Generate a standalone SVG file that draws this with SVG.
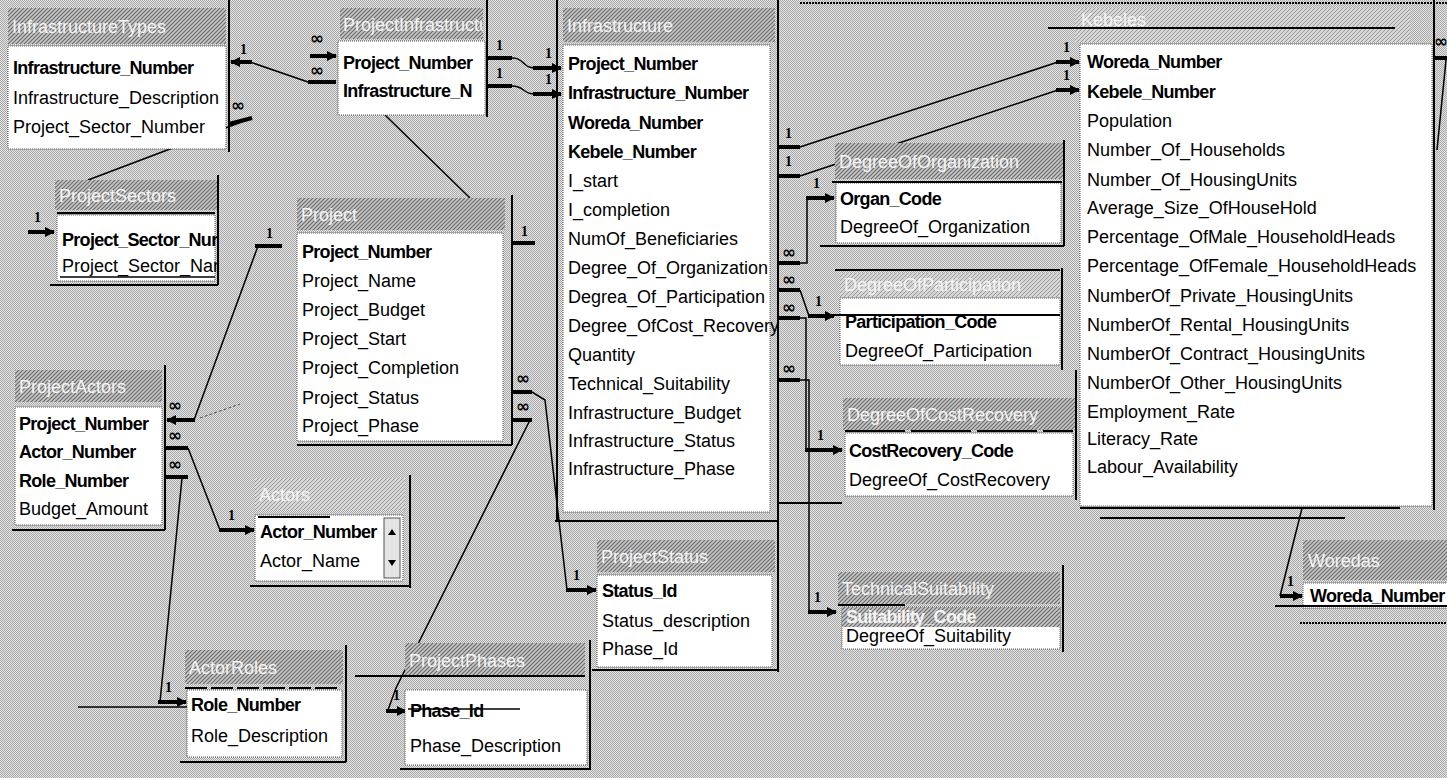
<svg xmlns="http://www.w3.org/2000/svg" width="1447" height="778" viewBox="0 0 1447 778">
<defs>
  <pattern id="dither" width="2" height="2" patternUnits="userSpaceOnUse">
    <rect width="2" height="2" fill="#e4e4e4"/>
    <rect width="1" height="1" fill="#a8a8a8"/>
    <rect x="1" y="1" width="1" height="1" fill="#a8a8a8"/>
  </pattern>
  <pattern id="hatch" width="4" height="4" patternUnits="userSpaceOnUse">
    <rect width="4" height="4" fill="#c6c6c6"/>
    <path d="M-1,1 l2,-2 M0,4 l4,-4 M3,5 l2,-2" stroke="#6c6c6c" stroke-width="1.2"/>
  </pattern>
  <pattern id="hatchLight" width="4" height="4" patternUnits="userSpaceOnUse">
    <rect width="4" height="4" fill="#d6d6d6"/>
    <path d="M-1,1 l2,-2 M0,4 l4,-4 M3,5 l2,-2" stroke="#9a9a9a" stroke-width="1"/>
  </pattern>
  <marker id="ah" markerUnits="userSpaceOnUse" markerWidth="10" markerHeight="10" refX="9" refY="5" orient="auto">
    <path d="M0,0 L10,5 L0,10 z" fill="#000"/>
  </marker>
  <style>
    .f{font-family:"Liberation Sans",Arial,sans-serif;font-size:18px;fill:#000}
    .b{font-weight:bold;letter-spacing:-0.7px}
    .t{font-family:"Liberation Sans",Arial,sans-serif;font-size:18px;fill:#f4f4f4}
    .bar{fill:url(#hatch)}
    .barL{fill:url(#hatchLight)}
    .body{fill:#fff;stroke:#555;stroke-width:1;stroke-dasharray:1 1}
    .edge{stroke:#000;stroke-width:2;fill:none}
    .ln{stroke:#000;stroke-width:1.5;fill:none}
    .stub{stroke:#000;stroke-width:4;fill:none}
    .arr{stroke:#000;stroke-width:4;fill:none;marker-end:url(#ah)}
    .one{font-family:"Liberation Serif","Times New Roman",serif;font-weight:bold;font-size:14px;fill:#000}
    .inf{font-family:"DejaVu Sans",sans-serif;font-weight:bold;font-size:17px;fill:#000}
  </style>
</defs>

<!-- workspace background -->
<rect width="1447" height="778" fill="url(#dither)"/>
<line x1="800" y1="3" x2="1447" y2="3" stroke="#000" stroke-width="2" stroke-dasharray="2 1"/>

<!-- relationship lines -->
<g id="connectors">
  <!-- InfrastructureTypes / ProjectInfrastructure -->
  <line class="arr" x1="252" y1="62" x2="231" y2="62"/>
  <text class="one" x="240" y="54">1</text>
  <polyline class="ln" points="250,62 308,82"/>
  <line class="stub" x1="308" y1="82" x2="336" y2="82"/>
  <text class="inf" x="310" y="44">∞</text>
  <line class="arr" x1="310" y1="56" x2="336" y2="56"/>
  <text class="inf" x="310" y="76">∞</text>

  <!-- ProjectInfrastructure to Infrastructure -->
  <line class="stub" x1="487" y1="58" x2="512" y2="58"/>
  <text class="one" x="496" y="50">1</text>
  <path class="ln" d="M512,58 C525,58 522,68 535,68"/>
  <line class="arr" x1="533" y1="68" x2="561" y2="68"/>
  <text class="one" x="545" y="58">1</text>
  <line class="stub" x1="487" y1="86" x2="512" y2="86"/>
  <text class="one" x="496" y="78">1</text>
  <path class="ln" d="M512,86 C525,86 522,94 535,94"/>
  <line class="arr" x1="533" y1="94" x2="561" y2="94"/>
  <text class="one" x="545" y="84">1</text>

  <!-- Infrastructure to Kebele -->
  <line class="stub" x1="778" y1="147" x2="800" y2="147"/>
  <text class="one" x="785" y="138">1</text>
  <line class="ln" x1="800" y1="147" x2="1058" y2="62"/>
  <line class="arr" x1="1056" y1="62" x2="1079" y2="62"/>
  <text class="one" x="1063" y="52">1</text>
  <line class="stub" x1="778" y1="176" x2="800" y2="176"/>
  <text class="one" x="785" y="166">1</text>
  <line class="ln" x1="800" y1="176" x2="1058" y2="90"/>
  <line class="arr" x1="1056" y1="90" x2="1079" y2="90"/>
  <text class="one" x="1063" y="80">1</text>

  <!-- Infrastructure to the degree tables -->
  <text class="inf" x="782" y="258">∞</text>
  <line class="stub" x1="778" y1="263" x2="800" y2="263"/>
  <polyline class="ln" points="800,263 807,263 807,198"/>
  <line class="arr" x1="806" y1="198" x2="834" y2="198"/>
  <text class="one" x="813" y="188">1</text>

  <text class="inf" x="782" y="285">∞</text>
  <line class="stub" x1="778" y1="290" x2="800" y2="290"/>
  <polyline class="ln" points="800,290 809,316"/>
  <line class="arr" x1="808" y1="316" x2="834" y2="316"/>
  <text class="one" x="815" y="306">1</text>

  <text class="inf" x="782" y="313">∞</text>
  <line class="stub" x1="778" y1="318" x2="800" y2="318"/>
  <polyline class="ln" points="800,318 806,318 806,450"/>
  <line class="arr" x1="805" y1="450" x2="842" y2="450"/>
  <text class="one" x="817" y="440">1</text>

  <text class="inf" x="782" y="374">∞</text>
  <line class="stub" x1="778" y1="380" x2="800" y2="380"/>
  <polyline class="ln" points="800,380 809,380 809,612"/>
  <line class="arr" x1="808" y1="612" x2="836" y2="612"/>
  <text class="one" x="814" y="602">1</text>

  <!-- Kebele to Woredas -->
  <line class="ln" x1="1302" y1="508" x2="1280" y2="596"/>
  <line class="arr" x1="1280" y1="596" x2="1302" y2="596"/>
  <text class="one" x="1287" y="586">1</text>
  <text class="inf" x="1434" y="47">∞</text>
  <line class="stub" x1="1434" y1="58" x2="1447" y2="58"/>
  <line class="ln" x1="1446" y1="60" x2="1437" y2="150"/>

  <!-- InfrastructureTypes to ProjectSectors -->
  <text class="inf" x="231" y="111">∞</text>
  <line class="stub" x1="229" y1="124" x2="252" y2="118"/>
  <line class="ln" x1="252" y1="118" x2="88" y2="180"/>
  <line class="arr" x1="28" y1="232" x2="54" y2="232"/>
  <text class="one" x="34" y="222">1</text>

  <!-- Project to ProjectInfrastructure -->
  <line class="ln" x1="385" y1="115" x2="470" y2="198"/>
  <line class="stub" x1="512" y1="243" x2="535" y2="243"/>
  <text class="one" x="521" y="236">1</text>

  <!-- Project to ProjectActors -->
  <line class="stub" x1="255" y1="246" x2="282" y2="246"/>
  <text class="one" x="266" y="238">1</text>
  <line class="ln" x1="258" y1="246" x2="194" y2="420"/>
  <line class="arr" x1="195" y1="420" x2="167" y2="420"/>
  <text class="inf" x="168" y="411">∞</text>
  <line x1="200" y1="418" x2="240" y2="404" stroke="#555" stroke-width="1" stroke-dasharray="3 2"/>

  <!-- ProjectActors to Actors -->
  <text class="inf" x="168" y="441">∞</text>
  <line class="stub" x1="165" y1="448" x2="188" y2="448"/>
  <line class="ln" x1="188" y1="448" x2="220" y2="530"/>
  <line class="arr" x1="219" y1="530" x2="254" y2="530"/>
  <text class="one" x="228" y="520">1</text>

  <!-- ProjectActors to ActorRoles -->
  <text class="inf" x="168" y="470">∞</text>
  <line class="stub" x1="165" y1="477" x2="188" y2="477"/>
  <line class="ln" x1="182" y1="478" x2="160" y2="702"/>
  <line class="arr" x1="158" y1="702" x2="186" y2="702"/>
  <text class="one" x="165" y="692">1</text>
  <line class="ln" x1="78" y1="707" x2="190" y2="707"/>

  <!-- Project to ProjectStatus -->
  <text class="inf" x="516" y="384">∞</text>
  <line class="stub" x1="512" y1="392" x2="532" y2="392"/>
  <polyline class="ln" points="532,392 545,400 567,590"/>
  <line class="arr" x1="566" y1="590" x2="596" y2="590"/>
  <text class="one" x="573" y="580">1</text>

  <!-- Project to ProjectPhases -->
  <text class="inf" x="516" y="412">∞</text>
  <line class="stub" x1="512" y1="420" x2="532" y2="420"/>
  <polyline class="ln" points="530,420 396,688 388,710"/>
  <line class="arr" x1="386" y1="711" x2="406" y2="711"/>
  <text class="one" x="393" y="700">1</text>
</g>

<!-- tables -->
<g id="InfrastructureTypes">
  <svg x="8" y="8" width="218" height="36"><rect class="bar" width="218" height="36"/><text class="t" x="4" y="25">InfrastructureTypes</text></svg>
  <rect class="body" x="8" y="46" width="218" height="103"/>
  <line class="edge" x1="229" y1="0" x2="229" y2="152"/>
  <text class="f b" x="13" y="74">Infrastructure_Number</text>
  <text class="f" x="13" y="104">Infrastructure_Description</text>
  <text class="f" x="13" y="133">Project_Sector_Number</text>
</g>

<g id="ProjectInfrastructure">
  <svg x="340" y="8" width="143" height="31"><rect class="bar" width="143" height="31"/><text class="t" x="3" y="23">ProjectInfrastructure</text></svg>
  <rect class="body" x="338" y="41" width="147" height="74"/>
  <line class="edge" x1="487" y1="0" x2="487" y2="117"/>
  <text class="f b" x="343" y="69">Project_Number</text>
  <text class="f b" x="343" y="97">Infrastructure_N</text>
</g>

<g id="Infrastructure">
  <svg x="563" y="8" width="212" height="34"><rect class="bar" width="212" height="34"/><text class="t" x="4" y="24">Infrastructure</text></svg>
  <rect class="body" x="563" y="45" width="207" height="467"/>
  <line class="edge" x1="778" y1="0" x2="778" y2="672"/>
  <line class="edge" x1="555" y1="521" x2="778" y2="521"/>
  <line class="edge" x1="557" y1="0" x2="557" y2="521"/>
  <text class="f b" x="568" y="70">Project_Number</text>
  <text class="f b" x="568" y="99">Infrastructure_Number</text>
  <text class="f b" x="568" y="129">Woreda_Number</text>
  <text class="f b" x="568" y="158">Kebele_Number</text>
  <text class="f" x="568" y="187">I_start</text>
  <text class="f" x="568" y="216">I_completion</text>
  <text class="f" x="568" y="245">NumOf_Beneficiaries</text>
  <text class="f" x="568" y="274">Degree_Of_Organization</text>
  <text class="f" x="568" y="303">Degrea_Of_Participation</text>
  <text class="f" x="568" y="332">Degree_OfCost_Recovery</text>
  <text class="f" x="568" y="361">Quantity</text>
  <text class="f" x="568" y="390">Technical_Suitability</text>
  <text class="f" x="568" y="419">Infrastructure_Budget</text>
  <text class="f" x="568" y="447">Infrastructure_Status</text>
  <text class="f" x="568" y="475">Infrastructure_Phase</text>
</g>

<g id="Kebeles">
  <svg x="1075" y="8" width="335" height="34"><rect class="barL" width="335" height="34"/><text class="t" x="6" y="18" font-size="14">Kebeles</text></svg>
  <line class="edge" x1="1048" y1="28" x2="1395" y2="28"/>
  <rect class="body" x="1080" y="44" width="352" height="462"/>
  <line class="edge" x1="1434" y1="0" x2="1434" y2="510"/>
  <line class="edge" x1="1080" y1="508" x2="1400" y2="508"/>
  <line class="edge" x1="1100" y1="518" x2="1345" y2="518"/>
  <text class="f b" x="1087" y="68">Woreda_Number</text>
  <text class="f b" x="1087" y="98">Kebele_Number</text>
  <text class="f" x="1087" y="127">Population</text>
  <text class="f" x="1087" y="156">Number_Of_Households</text>
  <text class="f" x="1087" y="186">Number_Of_HousingUnits</text>
  <text class="f" x="1087" y="214">Average_Size_OfHouseHold</text>
  <text class="f" x="1087" y="243">Percentage_OfMale_HouseholdHeads</text>
  <text class="f" x="1087" y="272">Percentage_OfFemale_HouseholdHeads</text>
  <text class="f" x="1087" y="302">NumberOf_Private_HousingUnits</text>
  <text class="f" x="1087" y="331">NumberOf_Rental_HousingUnits</text>
  <text class="f" x="1087" y="360">NumberOf_Contract_HousingUnits</text>
  <text class="f" x="1087" y="389">NumberOf_Other_HousingUnits</text>
  <text class="f" x="1087" y="418">Employment_Rate</text>
  <text class="f" x="1087" y="445">Literacy_Rate</text>
  <text class="f" x="1087" y="473">Labour_Availability</text>
</g>

<g id="DegreeOfOrganization">
  <svg x="835" y="143" width="228" height="36"><rect class="bar" width="228" height="36"/><text class="t" x="4" y="25">DegreeOfOrganization</text></svg>
  <rect class="body" x="836" y="183" width="225" height="60"/>
  <line class="edge" x1="832" y1="182" x2="1062" y2="182"/>
  <line class="edge" x1="1064" y1="140" x2="1064" y2="246"/>
  <line class="edge" x1="820" y1="246" x2="1064" y2="246"/>
  <text class="f b" x="840" y="205">Organ_Code</text>
  <text class="f" x="840" y="233">DegreeOf_Organization</text>
</g>

<g id="DegreeOfParticipation">
  <line class="edge" x1="835" y1="270" x2="1060" y2="270"/>
  <svg x="840" y="273" width="220" height="24"><rect class="barL" width="220" height="24"/><text class="t" x="4" y="18" font-size="16">DegreeOfParticipation</text></svg>
  <rect class="body" x="840" y="298" width="220" height="67"/>
  <line class="edge" x1="1062" y1="268" x2="1062" y2="370"/>
  <line class="edge" x1="830" y1="315" x2="1060" y2="315"/>
  <text class="f b" x="845" y="328">Participation_Code</text>
  <text class="f" x="845" y="357">DegreeOf_Participation</text>
</g>

<g id="DegreeOfCostRecovery">
  <svg x="843" y="398" width="232" height="32"><rect class="bar" width="232" height="32"/><text class="t" x="4" y="23">DegreeOfCostRecovery</text></svg>
  <line x1="845" y1="431" x2="1073" y2="431" stroke="#000" stroke-width="2" stroke-dasharray="60 6"/>
  <rect class="body" x="845" y="433" width="228" height="63"/>
  <line class="edge" x1="1076" y1="370" x2="1076" y2="500"/>
  <line class="edge" x1="778" y1="503" x2="842" y2="503"/>
  <text class="f b" x="849" y="457">CostRecovery_Code</text>
  <text class="f" x="849" y="486">DegreeOf_CostRecovery</text>
</g>

<g id="TechnicalSuitability">
  <svg x="838" y="572" width="222" height="32"><rect class="bar" width="222" height="32"/><text class="t" x="4" y="23">TechnicalSuitability</text></svg>
  <line class="edge" x1="838" y1="605" x2="905" y2="605"/>
  <rect class="body" x="842" y="607" width="218" height="42"/>
  <rect class="bar" x="842" y="607" width="218" height="20"/>
  <line class="edge" x1="1063" y1="565" x2="1063" y2="652"/>
  <text class="t b" x="846" y="623">Suitability_Code</text>
  <text class="f" x="846" y="642">DegreeOf_Suitability</text>
</g>

<g id="Woredas">
  <svg x="1303" y="540" width="144" height="40"><rect class="bar" width="144" height="40"/><text class="t" x="5" y="27">Woredas</text></svg>
  <rect class="body" x="1303" y="583" width="150" height="25"/>
  <text class="f b" x="1310" y="602">Woreda_Number</text>
  <line class="edge" x1="1275" y1="606" x2="1447" y2="606"/>
  <line x1="1300" y1="623" x2="1447" y2="623" stroke="#000" stroke-width="2" stroke-dasharray="2 1"/>
</g>

<g id="ProjectSectors">
  <svg x="55" y="180" width="163" height="30"><rect class="bar" width="163" height="30"/><text class="t" x="4" y="22">ProjectSectors</text></svg>
  <line class="edge" x1="57" y1="213" x2="215" y2="213"/>
  <rect class="body" x="57" y="215" width="158" height="66"/>
  <line class="edge" x1="218" y1="175" x2="218" y2="285"/>
  <line class="edge" x1="50" y1="285" x2="218" y2="285"/>
  <text class="f b" x="62" y="246">Project_Sector_Nur</text>
  <text class="f" x="62" y="272">Project_Sector_Nar</text>
  <line class="ln" x1="60" y1="277" x2="215" y2="277"/>
</g>

<g id="Project">
  <svg x="297" y="198" width="208" height="32"><rect class="bar" width="208" height="32"/><text class="t" x="4" y="23">Project</text></svg>
  <rect class="body" x="297" y="233" width="206" height="208"/>
  <line class="edge" x1="512" y1="195" x2="512" y2="445"/>
  <line class="edge" x1="297" y1="445" x2="512" y2="445"/>
  <text class="f b" x="302" y="258">Project_Number</text>
  <text class="f" x="302" y="287">Project_Name</text>
  <text class="f" x="302" y="316">Project_Budget</text>
  <text class="f" x="302" y="345">Project_Start</text>
  <text class="f" x="302" y="374">Project_Completion</text>
  <text class="f" x="302" y="404">Project_Status</text>
  <text class="f" x="302" y="432">Project_Phase</text>
</g>

<g id="ProjectActors">
  <svg x="15" y="370" width="147" height="32"><rect class="bar" width="147" height="32"/><text class="t" x="4" y="23">ProjectActors</text></svg>
  <rect class="body" x="15" y="407" width="147" height="118"/>
  <line class="edge" x1="165" y1="365" x2="165" y2="530"/>
  <line class="edge" x1="12" y1="530" x2="165" y2="530"/>
  <text class="f b" x="19" y="430">Project_Number</text>
  <text class="f b" x="19" y="458">Actor_Number</text>
  <text class="f b" x="19" y="487">Role_Number</text>
  <text class="f" x="19" y="515">Budget_Amount</text>
</g>

<g id="Actors">
  <svg x="255" y="478" width="150" height="32"><rect class="barL" width="150" height="32"/><text class="t" x="4" y="23">Actors</text></svg>
  <rect class="body" x="255" y="515" width="148" height="66"/>
  <line class="edge" x1="258" y1="517" x2="330" y2="517"/>
  <rect x="384" y="518" width="16" height="60" fill="#e4e4e4" stroke="#555" stroke-width="1"/>
  <path d="M388,535 L392,529 L396,535 z M388,560 L392,566 L396,560 z" fill="#000"/>
  <line class="edge" x1="410" y1="475" x2="410" y2="588"/>
  <line class="edge" x1="250" y1="586" x2="410" y2="586"/>
  <text class="f b" x="260" y="538">Actor_Number</text>
  <text class="f" x="260" y="567">Actor_Name</text>
</g>

<g id="ActorRoles">
  <svg x="185" y="650" width="158" height="34"><rect class="bar" width="158" height="34"/><text class="t" x="4" y="24">ActorRoles</text></svg>
  <line x1="185" y1="688" x2="340" y2="688" stroke="#000" stroke-width="2" stroke-dasharray="22 4"/>
  <rect class="body" x="187" y="690" width="155" height="67"/>
  <line class="edge" x1="346" y1="645" x2="346" y2="762"/>
  <line class="edge" x1="180" y1="762" x2="346" y2="762"/>
  <text class="f b" x="191" y="711">Role_Number</text>
  <text class="f" x="191" y="742">Role_Description</text>
</g>

<g id="ProjectPhases">
  <svg x="405" y="643" width="180" height="34"><rect class="bar" width="180" height="34"/><text class="t" x="4" y="24">ProjectPhases</text></svg>
  <line class="edge" x1="355" y1="676" x2="585" y2="676"/>
  <rect class="body" x="405" y="690" width="182" height="75"/>
  <line class="edge" x1="590" y1="640" x2="590" y2="770"/>
  <line class="edge" x1="400" y1="769" x2="590" y2="769"/>
  <text class="f b" x="410" y="717">Phase_Id</text>
  <line class="ln" x1="408" y1="709" x2="520" y2="709"/>
  <text class="f" x="410" y="752">Phase_Description</text>
</g>

<g id="ProjectStatus">
  <svg x="597" y="540" width="178" height="32"><rect class="bar" width="178" height="32"/><text class="t" x="4" y="23">ProjectStatus</text></svg>
  <rect class="body" x="597" y="575" width="175" height="92"/>
  <line class="edge" x1="592" y1="670" x2="778" y2="670"/>
  <text class="f b" x="602" y="597">Status_Id</text>
  <text class="f" x="602" y="627">Status_description</text>
  <text class="f" x="602" y="655">Phase_Id</text>
</g>
</svg>
